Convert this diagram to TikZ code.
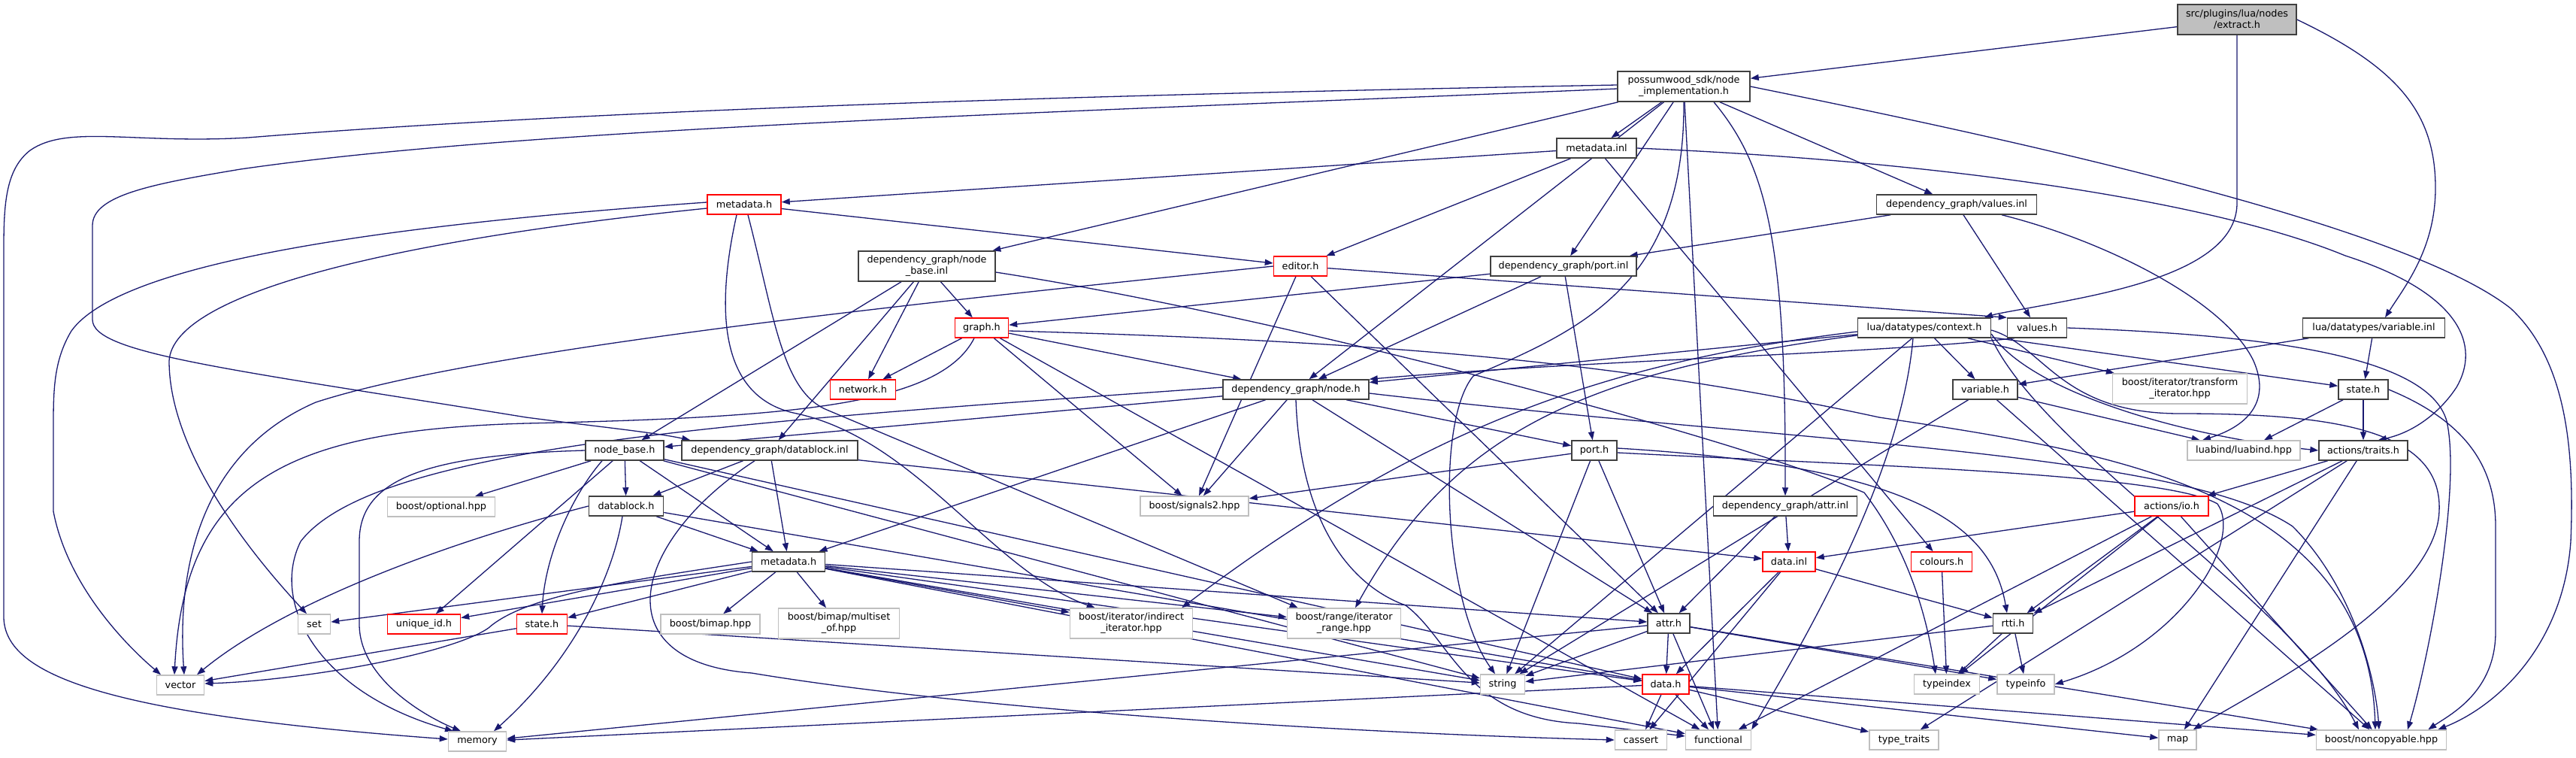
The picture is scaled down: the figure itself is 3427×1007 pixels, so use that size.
\documentclass[tikz,border=0pt]{standalone}
\usepackage{fontspec}
\setmainfont{DejaVu Sans}
\usetikzlibrary{arrows.meta}
\pgfdeclarelayer{bg}
\pgfsetlayers{bg,main}
\definecolor{edgec}{HTML}{191970}
\definecolor{nodeb}{HTML}{404040}
\definecolor{extb}{HTML}{BFBFBF}
\definecolor{redb}{HTML}{FF0000}
\tikzset{
  box/.style={draw=nodeb, line width=1.5pt, fill=white, inner sep=0pt, minimum height=26pt,
    font=\fontsize{12.8}{15}\selectfont, align=center, text=black},
  redbox/.style={box, draw=redb},
  extbox/.style={box, draw=extb},
  srcbox/.style={box, fill=extb},
  two/.style={minimum height=40pt},
  conn/.style={draw=edgec, line width=1.3pt, -{Triangle[length=11pt,width=8pt]}}
}
\begin{document}
\begin{tikzpicture}[x=1pt,y=-1pt]
\useasboundingbox (0,0) rectangle (3427,1007);
\begin{pgfonlayer}{bg}
\fill[white] (0,0) rectangle (3427,1007);
\end{pgfonlayer}
% nodes
\node[srcbox, two, minimum width=158pt] (ext) at (2976,26) {src/plugins/lua/nodes\\/extract.h};
\node[box, two, minimum width=176pt] (impl) at (2240,115) {possumwood\_sdk/node\\\_implementation.h};
\node[box, minimum width=106pt] (minl) at (2124,197) {metadata.inl};
\node[redbox, minimum width=98pt] (mdh1) at (990,272) {metadata.h};
\node[box, minimum width=213pt] (vinl) at (2603,272) {dependency\_graph/values.inl};
\node[box, two, minimum width=182pt] (nbinl) at (1233,354) {dependency\_graph/node\\\_base.inl};
\node[redbox, minimum width=71pt] (editor) at (1730,354) {editor.h};
\node[box, minimum width=194pt] (pinl) at (2080,354) {dependency\_graph/port.inl};
\node[redbox, minimum width=71pt] (graph) at (1306,436) {graph.h};
\node[box, minimum width=177pt] (ctx) at (2560,436) {lua/datatypes/context.h};
\node[box, minimum width=79pt] (valh) at (2710,436) {values.h};
\node[box, minimum width=189pt] (varinl) at (3158,436) {lua/datatypes/variable.inl};
\node[redbox, minimum width=87pt] (network) at (1148,518) {network.h};
\node[box, minimum width=194pt] (nodeh) at (1724,518) {dependency\_graph/node.h};
\node[box, minimum width=86pt] (varh) at (2641,518) {variable.h};
\node[extbox, two, minimum width=179pt] (transf) at (2900,517) {boost/iterator/transform\\\_iterator.hpp};
\node[box, minimum width=66pt] (stateh) at (3144,518) {state.h};
\node[box, minimum width=104pt] (nbh) at (831,599) {node\_base.h};
\node[box, minimum width=234pt] (dbinl) at (1024,599) {dependency\_graph/datablock.inl};
\node[box, minimum width=60pt] (porth) at (2121,599) {port.h};
\node[extbox, minimum width=150pt] (luabind) at (2985,599) {luabind/luabind.hpp};
\node[box, minimum width=118pt] (traits) at (3144,599) {actions/traits.h};
\node[box, minimum width=99pt] (dbh) at (833,673) {datablock.h};
\node[extbox, minimum width=143pt] (optional) at (587,674) {boost/optional.hpp};
\node[extbox, minimum width=144pt] (signals) at (1589,673) {boost/signals2.hpp};
\node[box, minimum width=191pt] (attrinl) at (2375,673) {dependency\_graph/attr.inl};
\node[redbox, minimum width=98pt] (ioh) at (2889,673) {actions/io.h};
\node[box, minimum width=97pt] (mdh2) at (1049,747) {metadata.h};
\node[redbox, minimum width=70pt] (datainl) at (2380,747) {data.inl};
\node[redbox, minimum width=81pt] (colours) at (2583,747) {colours.h};
\node[extbox, minimum width=43pt] (set) at (418,830) {set};
\node[redbox, minimum width=97pt] (uid) at (564,830) {unique\_id.h};
\node[redbox, minimum width=67pt] (state2) at (721,830) {state.h};
\node[extbox, minimum width=132pt] (bimap) at (945,830) {boost/bimap.hpp};
\node[extbox, two, minimum width=161pt] (multiset) at (1116,829) {boost/bimap/multiset\\\_of.hpp};
\node[extbox, two, minimum width=163pt] (indirect) at (1505,829) {boost/iterator/indirect\\\_iterator.hpp};
\node[extbox, two, minimum width=151pt] (range) at (1788,829) {boost/range/iterator\\\_range.hpp};
\node[box, minimum width=56pt] (attrh) at (2220,829) {attr.h};
\node[box, minimum width=53pt] (rtti) at (2678,829) {rtti.h};
\node[extbox, minimum width=63pt] (vector) at (240,911) {vector};
\node[extbox, minimum width=59pt] (string) at (1999,910) {string};
\node[redbox, minimum width=62pt] (datah) at (2216,910) {data.h};
\node[extbox, minimum width=87pt] (typeindex) at (2590,910) {typeindex};
\node[extbox, minimum width=76pt] (typeinfo) at (2695,910) {typeinfo};
\node[extbox, minimum width=77pt] (memory) at (635,986) {memory};
\node[extbox, minimum width=69pt] (cassert) at (2183,984) {cassert};
\node[extbox, minimum width=87pt] (functional) at (2286,984) {functional};
\node[extbox, minimum width=92pt] (typetraits) at (2533,984) {type\_traits};
\node[extbox, minimum width=50pt] (map) at (2897,984) {map};
\node[extbox, minimum width=173pt] (noncopy) at (3168,984) {boost/noncopyable.hpp};
% edges
\begin{pgfonlayer}{bg}
\foreach \a/\b in {ext/impl,
  impl/minl, impl/pinl, impl/vinl, impl/nbinl, impl/nodeh, impl/functional,
  minl/mdh1, minl/editor, minl/colours, mdh1/editor,
  vinl/pinl, vinl/valh,
  nbinl/nbh, nbinl/dbinl, nbinl/network, nbinl/graph,
  editor/signals, editor/attrh,
  pinl/graph, pinl/nodeh, pinl/porth,
  graph/network, graph/signals, graph/functional,
  ctx/nodeh, ctx/string, ctx/varh, ctx/stateh, ctx/transf,
  varinl/varh, varinl/stateh,
  nodeh/signals, nodeh/mdh2, nodeh/nbh, nodeh/attrh, nodeh/porth,
  varh/string, varh/luabind, varh/noncopy,
  stateh/luabind, stateh/traits,
  nbh/dbh, nbh/mdh2, nbh/uid, nbh/optional, nbh/string, nbh/datah,
  dbinl/dbh, dbinl/mdh2, dbinl/datainl,
  porth/signals, porth/string, porth/attrh,
  traits/ioh, traits/map, traits/rtti, traits/typetraits,
  dbh/mdh2, dbh/datah,
  attrinl/datainl, attrinl/attrh,
  ioh/datainl, ioh/rtti, ioh/typeindex, ioh/functional, ioh/noncopy,
  mdh2/set, mdh2/uid, mdh2/state2, mdh2/bimap, mdh2/multiset, mdh2/indirect,
  mdh2/range, mdh2/string, mdh2/attrh, mdh2/datah, mdh2/functional,
  datainl/datah, datainl/cassert, datainl/rtti,
  colours/typeindex,
  state2/vector, state2/string,
  attrh/string, attrh/datah, attrh/memory, attrh/functional, attrh/typeinfo, attrh/noncopy,
  rtti/string, rtti/typeindex, rtti/typeinfo,
  datah/memory, datah/cassert, datah/functional, datah/typetraits, datah/map, datah/noncopy}
  \draw[conn] (\a) -- (\b);
\draw[conn] (editor) -- (valh.north west);
\draw[conn] (graph) -- ([xshift=25pt]nodeh.north west);
% curved connectors
\draw[conn] (ext.south) -- (2976,270) .. controls (2976,345) and (2860,378) .. (2760,398) .. controls (2700,410) and (2660,416) .. ([xshift=80pt]ctx.north);
\draw[conn] (ext.east) .. controls (3190,90) and (3240,150) .. (3240,250) .. controls (3240,330) and (3200,380) .. ([xshift=15pt]varinl.north);
\draw[conn] ([yshift=2pt]impl.west) .. controls (1500,125) and (800,145) .. (330,183) .. controls (180,192) and (90,165) .. (40,200) .. controls (8,225) and (5,270) .. (5,330) -- (5,820) .. controls (5,900) and (150,950) .. ([yshift=3pt]memory.west);
\draw[conn] ([yshift=-3pt]impl.west) .. controls (1400,150) and (700,170) .. (320,225) .. controls (200,245) and (123,260) .. (123,300) -- (123,425) .. controls (123,470) and (300,490) .. (700,555) .. controls (800,568) and (870,575) .. ([xshift=12pt]dbinl.north west);
\draw[conn] (impl.south) .. controls (2242,380) and (2100,440) .. (1960,500) .. controls (1910,560) and (1920,800) .. ([xshift=-10pt]string.north);
\draw[conn] ([xshift=40pt]impl.south) .. controls (2350,220) and (2376,320) .. (attrinl.north);
\draw[conn] (impl.east) .. controls (2700,190) and (3200,300) .. (3340,410) .. controls (3415,480) and (3425,600) .. (3420,720) .. controls (3410,860) and (3320,940) .. ([xshift=-12pt]noncopy.north east);
\draw[conn] (minl.east) .. controls (2600,215) and (2950,270) .. (3120,340) .. controls (3275,390) and (3300,460) .. (3268,515) .. controls (3245,550) and (3210,575) .. ([xshift=20pt]traits.north);
\draw[conn] ([yshift=3pt]mdh1.west) .. controls (500,300) and (160,350) .. (95,440) .. controls (71,480) and (71,520) .. (71,570) -- (71,680) .. controls (90,780) and (170,860) .. ([xshift=-26pt]vector.north);
\draw[conn] ([yshift=-5pt]mdh1.west) .. controls (520,320) and (230,390) .. (225,480) .. controls (225,580) and (300,700) .. ([xshift=-10pt]set.north);
\draw[conn] ([xshift=-10pt]mdh1.south) .. controls (950,420) and (960,530) .. (1060,550) .. controls (1220,585) and (1320,760) .. ([xshift=34pt]indirect.north west);
\draw[conn] ([xshift=5pt]mdh1.south) .. controls (1030,420) and (1040,520) .. (1100,545) -- ([xshift=15pt]range.north west);
\draw[conn] (editor.west) .. controls (1300,395) and (650,460) .. (420,535) .. controls (270,600) and (235,750) .. ([xshift=5pt]vector.north);
\draw[conn] ([xshift=-10pt]graph.south) .. controls (1250,540) and (1050,555) .. (700,563) .. controls (380,572) and (245,640) .. ([xshift=-8pt]vector.north);
\draw[conn] ([yshift=-4pt]graph.east) .. controls (1900,455) and (2200,490) .. (2500,555) .. controls (2800,600) and (3150,650) .. ([xshift=-8pt]noncopy.north);
\draw[conn] ([yshift=-3pt]ctx.east) .. controls (2720,460) and (2740,550) .. (2900,550) .. controls (3100,550) and (3250,570) .. (3245,680) .. controls (3240,800) and (3000,920) .. ([xshift=-5pt]map.north east);
\draw[conn] ([xshift=-15pt]ctx.south) .. controls (2530,620) and (2420,820) .. (functional.north east);
\draw[conn] ([yshift=-5pt]ctx.west) .. controls (2150,480) and (1900,560) .. ([xshift=-15pt]indirect.north east);
\draw[conn] ([yshift=-10pt]ctx.west) .. controls (2100,495) and (1930,580) .. ([xshift=15pt]range.north);
\draw[conn] ([yshift=-8pt]ctx.east) .. controls (2700,520) and (2900,580) .. (traits.west);
\draw[conn] (ctx.south east) .. controls (2720,600) and (3050,800) .. ([xshift=-30pt]noncopy.north);
\draw[conn] ([xshift=-30pt]valh.south) .. controls (2500,470) and (2100,480) .. (nodeh.north east);
\draw[conn] (valh.east) .. controls (3000,445) and (3230,470) .. (3255,560) .. controls (3275,650) and (3230,880) .. ([xshift=35pt]noncopy.north);
\draw[conn] ([xshift=60pt]vinl.south) .. controls (2800,320) and (2960,400) .. (2998,480) .. controls (3020,530) and (2995,565) .. ([xshift=-55pt]luabind.north);
\draw[conn] ([yshift=-8pt]nbinl.east) .. controls (1700,420) and (2300,580) .. (2480,655) .. controls (2530,720) and (2560,800) .. ([xshift=-15pt]typeindex.north);
\draw[conn] ([yshift=3pt]nodeh.west) .. controls (1000,560) and (500,590) .. (400,720) .. controls (360,800) and (420,920) .. ([xshift=-32pt]memory.north);
\draw[conn] (nodeh.south) .. controls (1730,700) and (1800,780) .. (1870,805) .. controls (1930,850) and (1950,955) .. (2100,962) -- ([yshift=5pt]functional.west);
\draw[conn] ([yshift=-5pt]nodeh.east) .. controls (2400,590) and (2900,600) .. (3050,700) .. controls (3130,780) and (3160,900) .. ([xshift=-3pt]noncopy.north);
\draw[conn] (stateh.east) .. controls (3280,560) and (3320,620) .. (3320,700) -- (3320,840) .. controls (3320,920) and (3260,950) .. ([xshift=-25pt]noncopy.north east);
\draw[conn] (nbh.west) .. controls (560,605) and (478,640) .. (478,720) -- (478,830) .. controls (478,900) and (560,950) .. ([xshift=-22pt]memory.north);
\draw[conn] ([xshift=-30pt]nbh.south) .. controls (760,660) and (725,740) .. (state2.north);
\draw[conn] ([xshift=-20pt]dbinl.south) .. controls (840,720) and (800,880) .. (1000,895) .. controls (1300,945) and (1800,975) .. (cassert.west);
\draw[conn] ([yshift=3pt]porth.east) .. controls (2550,620) and (2650,700) .. ([xshift=-8pt]rtti.north);
\draw[conn] ([yshift=-3pt]porth.east) .. controls (2500,620) and (2880,630) .. (2950,670) .. controls (2985,720) and (2900,860) .. (typeinfo.east);
\draw[conn] (dbh.west) .. controls (600,720) and (380,800) .. ([xshift=22pt]vector.north);
\draw[conn] ([xshift=-5pt]dbh.south) .. controls (815,770) and (760,880) .. ([xshift=22pt]memory.north);
\draw[conn] (mdh2.west) .. controls (850,770) and (700,790) .. (650,835) .. controls (600,870) and (400,905) .. ([yshift=2pt]vector.east);
\end{pgfonlayer}
\end{tikzpicture}
\end{document}
